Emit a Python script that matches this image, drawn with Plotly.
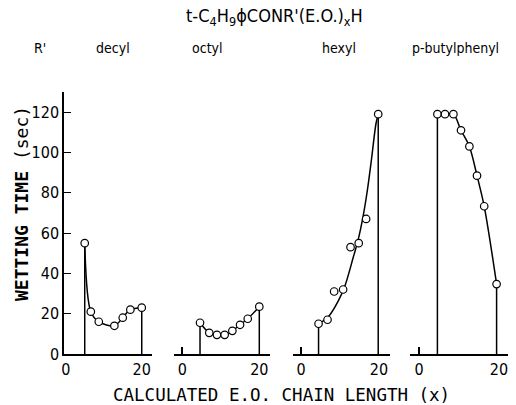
import plotly.graph_objects as go

# ---- data ----
decyl_x = [5, 6.6, 8.7, 12.8, 15, 17, 20]
decyl_y = [55, 21, 16, 14, 18, 22, 23]
octyl_x = [4.6, 7, 9, 11, 13, 15, 17, 20]
octyl_y = [15.5, 10.5, 9.5, 9.5, 11.5, 14.5, 17.5, 23.5]
hexyl_x = [4.5, 6.8, 8.5, 10.8, 12.7, 14.8, 16.7, 19.8]
hexyl_y = [15, 17, 31, 32, 53, 55, 67, 119]
butyl_x = [4.6, 6.5, 8.6, 10.5, 12.6, 14.5, 16.3, 19.4]
butyl_y = [119, 119, 119, 111, 103, 88.5, 73.3, 34.7]

# hand-drawn smooth curve for hexyl
hexyl_curve_x = [4.5, 7, 9.6, 11.3, 13.4, 14.7, 15.8, 17, 18.1, 19.2, 19.8]
hexyl_curve_y = [15, 18.5, 26.5, 34, 48, 57, 67, 81, 97, 114, 119]

panel_names = ["decyl", "octyl", "hexyl", "p-butylphenyl"]
y_ticks = [0, 20, 40, 60, 80, 100, 120]
x_ticks = [0, 20]

series = [(decyl_x, decyl_y), (octyl_x, octyl_y), (hexyl_x, hexyl_y), (butyl_x, butyl_y)]
curves = [(decyl_x, decyl_y), (octyl_x, octyl_y), (hexyl_curve_x, hexyl_curve_y), (butyl_x, butyl_y)]

W, H = 516, 405
x_dom_px = [(64, 152), (174, 270), (293, 390), (410, 508)]
x_ranges = [[-0.45, 22.7], [-2.16, 22.78], [-2.05, 22.82], [-2.25, 22.25]]
y_dom = [1 - 354 / H, 1 - 92 / H]
y_range = [0, 130]

FONT = "Liberation Sans Narrow, DejaVu Sans Condensed, Liberation Sans, Arial"

fig = go.Figure()
line_style = dict(color="black", width=1.5)

for i, (xs, ys) in enumerate(series):
    n = "" if i == 0 else str(i + 1)
    xa, ya = "x" + n, "y" + n
    cx, cy = curves[i]
    # vertical drop lines at first and last composition
    fig.add_trace(go.Scatter(x=[xs[0], xs[0]], y=[0, ys[0]], mode="lines",
                             line=line_style, xaxis=xa, yaxis=ya, showlegend=False,
                             hoverinfo="skip"))
    fig.add_trace(go.Scatter(x=[cx[-1], cx[-1]], y=[0, cy[-1]], mode="lines",
                             line=line_style, xaxis=xa, yaxis=ya, showlegend=False,
                             hoverinfo="skip"))
    # smooth curve
    fig.add_trace(go.Scatter(x=cx, y=cy, mode="lines",
                             line=dict(color="black", width=1.5, shape="spline", smoothing=0.9),
                             xaxis=xa, yaxis=ya, showlegend=False, hoverinfo="skip"))
    # open circle markers
    fig.add_trace(go.Scatter(x=xs, y=ys, mode="markers",
                             marker=dict(symbol="circle", size=7.5, color="white",
                                         line=dict(color="black", width=1.2)),
                             xaxis=xa, yaxis=ya, showlegend=False, cliponaxis=False))

    xd = [x_dom_px[i][0] / W, x_dom_px[i][1] / W]
    xaxis = dict(domain=xd, range=x_ranges[i], showgrid=False, zeroline=False,
                 showline=True, linecolor="black", linewidth=1.5, automargin=False,
                 tickmode="array", tickvals=x_ticks, ticktext=[str(t) for t in x_ticks],
                 ticks="", tickfont=dict(family=FONT, size=16, color="black"),
                 anchor=ya)
    if i > 0:
        xaxis["minor"] = dict(tickmode="array", tickvals=[0], ticks="inside",
                              ticklen=7, tickwidth=1.5, tickcolor="black")
    yaxis = dict(domain=y_dom, range=y_range, showgrid=False, zeroline=False,
                 automargin=False, anchor=xa)
    if i == 0:
        yaxis.update(showline=True, linecolor="black", linewidth=1.5,
                     tickmode="array", tickvals=y_ticks,
                     ticktext=[str(t) for t in y_ticks],
                     ticks="inside", ticklen=7, tickwidth=1.2, tickcolor="black",
                     tickfont=dict(family=FONT, size=16, color="black"))
    else:
        yaxis.update(visible=False)
    fig.layout["xaxis" + n] = xaxis
    fig.layout["yaxis" + n] = yaxis

def ann(text, px, py, size, family=FONT, angle=0):
    fig.add_annotation(text=text, x=px / W, y=1 - py / H, xref="paper", yref="paper",
                       showarrow=False, xanchor="center", yanchor="middle",
                       textangle=angle, font=dict(family=family, size=size, color="black"))

ann("t-C<sub>4</sub>H<sub>9</sub>ϕCONR'(E.O.)<sub>x</sub>H", 274, 17, 18)
ann("R'", 40, 48, 14)
label_px = [113, 207, 339, 455]
for name, px in zip(panel_names, label_px):
    ann(name, px, 48, 14)
ann("<b>WETTING TIME</b> (sec)", 22, 204, 18, family="DejaVu Sans Mono", angle=-90)
ann("CALCULATED E.O. CHAIN LENGTH (x)", 281, 395, 17.5, family="DejaVu Sans Mono")

fig.update_layout(width=W, height=H,
                  margin=dict(l=0, r=0, t=0, b=0, autoexpand=False),
                  paper_bgcolor="white", plot_bgcolor="white", showlegend=False)

fig.write_html("out.html")
